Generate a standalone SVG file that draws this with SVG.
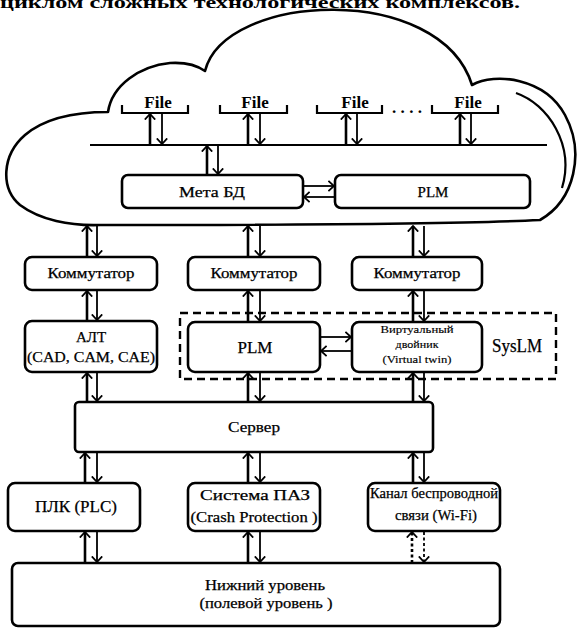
<svg xmlns="http://www.w3.org/2000/svg" width="578" height="628" viewBox="0 0 578 628" font-family="'Liberation Serif', 'Times New Roman', serif">
  <defs>
    <style>
      .box { fill: #fff; stroke: #000; stroke-width: 2.6; }
      .dash { fill: none; stroke: #000; stroke-width: 2.4; stroke-dasharray: 8 5; }
      .ln { fill: none; stroke: #000; stroke-width: 2.2; }
      .up { fill: none; stroke: #000; stroke-width: 2.6; marker-end: url(#head); }
      .dn { fill: none; stroke: #000; stroke-width: 1.8; marker-end: url(#head); }
      .dotted { stroke-dasharray: 3 2.5; }
      .cloud { fill: #fff; stroke: #000; stroke-width: 2.6; stroke-linejoin: round; }
      .t { font-family: 'Liberation Serif', 'Times New Roman', serif; fill: #000; text-anchor: middle; stroke: #000; stroke-width: 0.25; }
      .lbl { font-size: 15px; }
      .sm { font-size: 11px; stroke-width: 0.15; }
      .file { font-size: 17px; font-weight: bold; stroke-width: 0; }
    </style>
    <marker id="head" viewBox="0 0 7 12" refX="6.2" refY="6" markerWidth="7" markerHeight="12" markerUnits="userSpaceOnUse" orient="auto">
      <path d="M0.6,0.8 L6.2,6 L0.6,11.2" fill="none" stroke="#000" stroke-width="1.8"/>
    </marker>
  </defs>

  <!-- heading line along the top edge -->
  <text class="t" x="0" y="8" font-size="17" font-weight="bold" style="text-anchor:start; stroke-width:0" textLength="520" lengthAdjust="spacingAndGlyphs">циклом сложных технологических комплексов.</text>

  <!-- cloud -->
  <g id="cloud">
    <path class="cloud" d="M205,71 C225,-8 440,-18 472,85 C495,72 545,78 565,115 C585,152 575,200 540,220 C460,224 300,225 100,225 C70,226 40,220 20,205 C0,188 2,155 25,135 C45,118 75,112 108,112 C112,85 140,66 170,63 C186,62 198,66 205,71 Z"/>
    <path class="ln" d="M516,93 C548,104 575,145 562,188"/>
  </g>

  <!-- file stores on the bus -->
  <g id="files">
    <path class="ln" d="M122,105 V113 H188 V105"/>
    <path class="ln" d="M220,105 V113 H287 V105"/>
    <path class="ln" d="M317,105 V113 H382 V105"/>
    <path class="ln" d="M432,105 V113 H498 V105"/>
    <text class="t file" x="158" y="108">File</text>
    <text class="t file" x="255" y="108">File</text>
    <text class="t file" x="355" y="108">File</text>
    <text class="t file" x="468" y="108">File</text>
    <text class="t file" x="407" y="113" textLength="30">....</text>
  </g>

  <g id="bus">
    <line class="ln" x1="90" y1="145" x2="547" y2="145"/>
  </g>

  <g id="meta-db">
    <rect class="box" x="122" y="175" width="181" height="33" rx="6"/>
    <text class="t lbl" x="212" y="197" textLength="66" lengthAdjust="spacingAndGlyphs">Мета БД</text>
  </g>
  <g id="plm-cloud">
    <rect class="box" x="335" y="175" width="195" height="33" rx="6"/>
    <text class="t lbl" x="433" y="197">PLM</text>
  </g>

  <g id="switch-1">
    <rect class="box" x="25" y="257" width="132" height="33" rx="7"/>
    <text class="t lbl" x="91" y="278" textLength="87" lengthAdjust="spacingAndGlyphs">Коммутатор</text>
  </g>
  <g id="switch-2">
    <rect class="box" x="188" y="257" width="132" height="33" rx="7"/>
    <text class="t lbl" x="254" y="278" textLength="87" lengthAdjust="spacingAndGlyphs">Коммутатор</text>
  </g>
  <g id="switch-3">
    <rect class="box" x="352" y="257" width="130" height="33" rx="7"/>
    <text class="t lbl" x="417" y="278" textLength="87" lengthAdjust="spacingAndGlyphs">Коммутатор</text>
  </g>

  <g id="syslm">
    <rect class="dash" x="180" y="313" width="376" height="66"/>
    <text class="t" x="517" y="352" font-size="18" textLength="50" lengthAdjust="spacingAndGlyphs">SysLM</text>
  </g>

  <g id="alt">
    <rect class="box" x="25" y="321" width="132" height="51" rx="7"/>
    <text class="t lbl" x="91" y="342">АЛТ</text>
    <text class="t lbl" x="91" y="362" textLength="128" lengthAdjust="spacingAndGlyphs">(CAD, CAM, CAE)</text>
  </g>
  <g id="plm">
    <rect class="box" x="188" y="322" width="132" height="50" rx="7"/>
    <text class="t" x="255" y="353" font-size="17">PLM</text>
  </g>
  <g id="virtual-twin">
    <rect class="box" x="352" y="322" width="130" height="50" rx="7"/>
    <text class="t sm" x="417" y="333" textLength="73" lengthAdjust="spacingAndGlyphs">Виртуальный</text>
    <text class="t sm" x="417" y="348" textLength="43" lengthAdjust="spacingAndGlyphs">двойник</text>
    <text class="t sm" x="417" y="363" textLength="69" lengthAdjust="spacingAndGlyphs">(Virtual twin)</text>
  </g>

  <g id="server">
    <rect class="box" x="75" y="402" width="358" height="50" rx="4"/>
    <text class="t lbl" x="254" y="432" textLength="52" lengthAdjust="spacingAndGlyphs">Сервер</text>
  </g>

  <g id="plc">
    <rect class="box" x="8" y="483" width="132" height="48" rx="7"/>
    <text class="t" x="76" y="512" font-size="16" textLength="82" lengthAdjust="spacingAndGlyphs">ПЛК (PLC)</text>
  </g>
  <g id="crash-protection">
    <rect class="box" x="188" y="483" width="132" height="48" rx="7"/>
    <text class="t lbl" x="255" y="500" textLength="110" lengthAdjust="spacingAndGlyphs">Система ПАЗ</text>
    <text class="t lbl" x="254" y="522" textLength="127" lengthAdjust="spacingAndGlyphs">(Crash Protection )</text>
  </g>
  <g id="wifi">
    <rect class="box" x="368" y="483" width="132" height="48" rx="7"/>
    <text class="t lbl" x="434" y="498" textLength="128" lengthAdjust="spacingAndGlyphs">Канал беспроводной</text>
    <text class="t lbl" x="436" y="520" textLength="82" lengthAdjust="spacingAndGlyphs">связи (Wi-Fi)</text>
  </g>

  <g id="field-level">
    <rect class="box" x="12" y="563" width="488" height="63" rx="6"/>
    <text class="t lbl" x="265" y="590" textLength="120" lengthAdjust="spacingAndGlyphs">Нижний уровень</text>
    <text class="t lbl" x="266" y="608" textLength="133" lengthAdjust="spacingAndGlyphs">(полевой уровень )</text>
  </g>

  <!-- connectors: paired up / down arrows -->
  <g id="connectors">
    <!-- files <-> bus -->
    <line class="up" x1="150" y1="145" x2="150" y2="114"/>
    <line class="dn" x1="162" y1="114" x2="162" y2="144"/>
    <line class="up" x1="248" y1="145" x2="248" y2="114"/>
    <line class="dn" x1="260" y1="114" x2="260" y2="144"/>
    <line class="up" x1="346" y1="145" x2="346" y2="114"/>
    <line class="dn" x1="357" y1="114" x2="357" y2="144"/>
    <line class="up" x1="460" y1="145" x2="460" y2="114"/>
    <line class="dn" x1="471" y1="114" x2="471" y2="144"/>
    <!-- bus <-> Мета БД -->
    <line class="up" x1="207" y1="175" x2="207" y2="146"/>
    <line class="dn" x1="218" y1="146" x2="218" y2="174"/>
    <!-- Мета БД <-> PLM -->
    <line class="dn" x1="304" y1="186" x2="334" y2="186"/>
    <line class="dn" x1="334" y1="197" x2="304" y2="197"/>
    <!-- cloud <-> switches -->
    <line class="up" x1="87" y1="257" x2="87" y2="226"/>
    <line class="dn" x1="97" y1="226" x2="97" y2="256"/>
    <line class="up" x1="248" y1="257" x2="248" y2="226"/>
    <line class="dn" x1="260" y1="226" x2="260" y2="256"/>
    <line class="up" x1="413" y1="257" x2="413" y2="226"/>
    <line class="dn" x1="424" y1="226" x2="424" y2="256"/>
    <!-- switches <-> second row -->
    <line class="up" x1="87" y1="321" x2="87" y2="291"/>
    <line class="dn" x1="97" y1="291" x2="97" y2="320"/>
    <line class="up" x1="248" y1="322" x2="248" y2="291"/>
    <line class="dn" x1="260" y1="291" x2="260" y2="321"/>
    <line class="up" x1="413" y1="322" x2="413" y2="291"/>
    <line class="dn" x1="424" y1="291" x2="424" y2="321"/>
    <!-- PLM <-> virtual twin -->
    <line class="dn" x1="321" y1="337" x2="351" y2="337"/>
    <line class="dn" x1="351" y1="351" x2="321" y2="351"/>
    <!-- second row <-> server -->
    <line class="up" x1="87" y1="402" x2="87" y2="373"/>
    <line class="dn" x1="97" y1="373" x2="97" y2="401"/>
    <line class="up" x1="248" y1="402" x2="248" y2="373"/>
    <line class="dn" x1="260" y1="373" x2="260" y2="401"/>
    <line class="up" x1="413" y1="402" x2="413" y2="373"/>
    <line class="dn" x1="424" y1="373" x2="424" y2="401"/>
    <!-- server <-> third row -->
    <line class="up" x1="85" y1="483" x2="85" y2="453"/>
    <line class="dn" x1="97" y1="453" x2="97" y2="482"/>
    <line class="up" x1="248" y1="483" x2="248" y2="453"/>
    <line class="dn" x1="260" y1="453" x2="260" y2="482"/>
    <line class="up" x1="413" y1="483" x2="413" y2="453"/>
    <line class="dn" x1="424" y1="453" x2="424" y2="482"/>
    <!-- third row <-> field level -->
    <line class="up" x1="85" y1="563" x2="85" y2="532"/>
    <line class="dn" x1="97" y1="532" x2="97" y2="562"/>
    <line class="up" x1="248" y1="563" x2="248" y2="532"/>
    <line class="dn" x1="260" y1="532" x2="260" y2="562"/>
    <line class="up dotted" x1="412" y1="563" x2="412" y2="532"/>
    <line class="dn dotted" x1="424" y1="532" x2="424" y2="562"/>
  </g>
</svg>
